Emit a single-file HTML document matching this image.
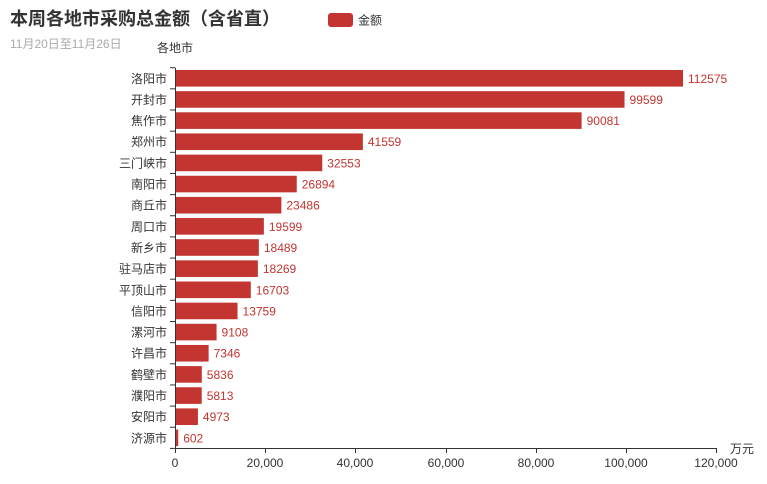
<!DOCTYPE html>
<html><head><meta charset="utf-8"><style>
body{margin:0;background:#fff;}
text{font-family:"Liberation Sans","Microsoft YaHei","Noto Sans CJK SC",sans-serif;}
</style></head><body>
<svg width="767" height="479" xmlns="http://www.w3.org/2000/svg">
<text x="10" y="25" font-size="18" font-weight="bold" fill="#333">本周各地市采购总金额（含省直）</text>
<text x="10" y="48" font-size="12" fill="#aaa">11月20日至11月26日</text>
<rect x="328" y="13" width="25" height="14" rx="3" fill="#c23531"/>
<text x="358" y="24.5" font-size="12" fill="#333">金额</text>
<text x="175" y="52" font-size="12" fill="#333" text-anchor="middle">各地市</text>
<text x="730" y="453" font-size="12" fill="#333">万元</text>
<g id="bars"></g>
<line x1="175.5" y1="67.7" x2="175.5" y2="448.5" stroke="#333"/>
<line x1="175" y1="448.5" x2="716" y2="448.5" stroke="#333"/>
<g font-size="12" fill="#333" text-anchor="middle">
<line x1="175.5" y1="448" x2="175.5" y2="453" stroke="#333"/><text x="175" y="467">0</text>
<line x1="265.5" y1="448" x2="265.5" y2="453" stroke="#333"/><text x="265" y="467">20,000</text>
<line x1="355.5" y1="448" x2="355.5" y2="453" stroke="#333"/><text x="355" y="467">40,000</text>
<line x1="446.5" y1="448" x2="446.5" y2="453" stroke="#333"/><text x="446" y="467">60,000</text>
<line x1="536.5" y1="448" x2="536.5" y2="453" stroke="#333"/><text x="536" y="467">80,000</text>
<line x1="626.5" y1="448" x2="626.5" y2="453" stroke="#333"/><text x="626" y="467">100,000</text>
<line x1="716.5" y1="448" x2="716.5" y2="453" stroke="#333"/><text x="716" y="467">120,000</text>
</g>
<g font-size="12">
<!-- generated rows -->
<line x1="170" y1="67.7" x2="175" y2="67.7" stroke="#333"/>
</g>
<script>
const d=[["洛阳市",112575],["开封市",99599],["焦作市",90081],["郑州市",41559],["三门峡市",32553],["南阳市",26894],["商丘市",23486],["周口市",19599],["新乡市",18489],["驻马店市",18269],["平顶山市",16703],["信阳市",13759],["漯河市",9108],["许昌市",7346],["鹤壁市",5836],["濮阳市",5813],["安阳市",4973],["济源市",602]];
const ns="http://www.w3.org/2000/svg",g=document.getElementById("bars");
const top0=67.7,band=21.15,s=541/120000;
function el(t,a,txt){const e=document.createElementNS(ns,t);for(const k in a)e.setAttribute(k,a[k]);if(txt)e.textContent=txt;g.appendChild(e);}
d.forEach((r,i)=>{const y=top0+i*band,w=r[1]*s;
el("rect",{x:175.5,y:y+2.3,width:w,height:16.6,fill:"#c23531"});
el("text",{x:175.5+w+5,y:y+band/2+4.5,"font-size":12,fill:"#c23531"},String(r[1]));
el("text",{x:167,y:y+band/2+4.5,"font-size":12,fill:"#333","text-anchor":"end"},r[0]);
el("line",{x1:170,y1:y+band,x2:175,y2:y+band,stroke:"#333"});
});
</script>
</svg>
</body></html>
